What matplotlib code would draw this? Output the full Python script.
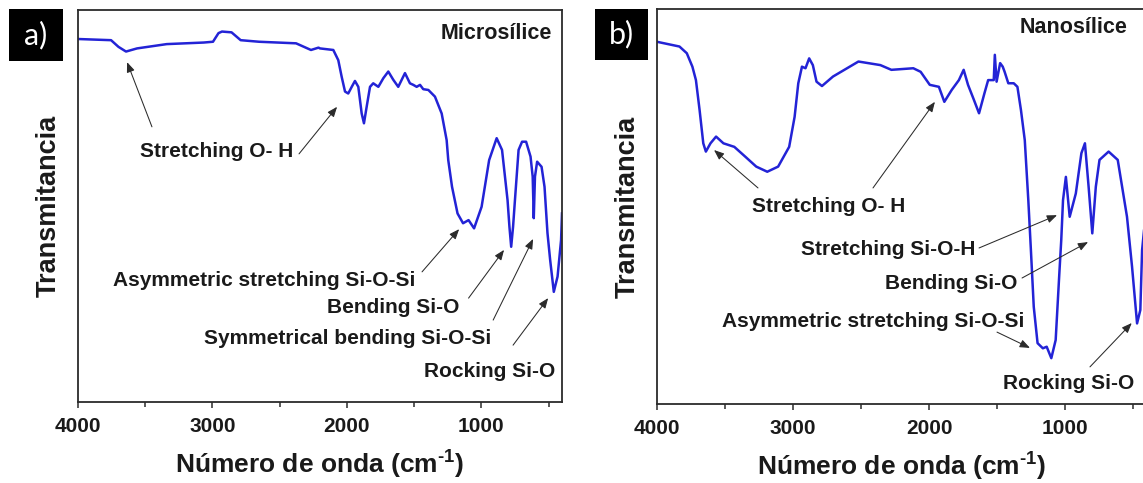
import matplotlib
matplotlib.use("Agg")
import matplotlib.pyplot as plt
from matplotlib.patches import Rectangle
from matplotlib.ticker import MultipleLocator

plt.rcParams["font.family"] = ["Liberation Sans", "DejaVu Sans"]
plt.rcParams["font.weight"] = "bold"
plt.rcParams["mathtext.fontset"] = "custom"
plt.rcParams["mathtext.rm"] = "Liberation Sans:bold"
plt.rcParams["mathtext.bf"] = "Liberation Sans:bold"

# FTIR spectrum of microsilica (wavenumber in cm-1, transmittance in a.u.)
micro_wn = [4000, 3754, 3699, 3643, 3561, 3340, 3065, 2996, 2955, 2929, 2858, 2790,
            2653, 2378, 2267, 2211, 2200, 2101, 2064, 2039, 2014, 1990, 1964, 1940,
            1915, 1890, 1873, 1853, 1828, 1804, 1766, 1729, 1692, 1655, 1618, 1568,
            1531, 1506, 1481, 1456, 1432, 1394, 1345, 1295, 1258, 1246, 1218, 1177,
            1136, 1095, 1054, 998, 942, 886, 846, 805, 791, 778, 764, 750, 723, 697,
            667, 634, 618, 610, 601, 585, 552, 530, 508, 488, 461, 433, 407, 400]
micro_t = [92.6, 92.3, 90.6, 89.4, 90.2, 91.3, 91.7, 91.9, 94.1, 94.5, 94.3, 92.3,
           91.9, 91.5, 89.8, 90.4, 90.2, 89.8, 87.2, 83.0, 79.2, 78.7, 80.4, 81.9,
           80.4, 73.6, 71.1, 75.3, 80.4, 81.3, 80.4, 82.6, 84.3, 82.2, 80.4, 83.9,
           81.3, 80.9, 80.4, 80.9, 79.8, 79.6, 77.9, 73.6, 66.8, 61.7, 54.9, 48.1,
           45.6, 46.4, 44.3, 49.8, 61.7, 67.3, 64.3, 51.5, 44.7, 39.6, 44.7, 51.5,
           64.3, 66.4, 66.4, 62.6, 57.5, 46.9, 57.5, 61.3, 60.0, 54.9, 43.1, 36.2,
           28.1, 32.0, 41.3, 48.1]

# FTIR spectrum of nanosilica
nano_wn = [4000, 3835, 3781, 3740, 3714, 3687, 3660, 3641, 3607, 3566, 3512, 3432,
           3351, 3271, 3190, 3110, 3029, 2989, 2962, 2935, 2909, 2882, 2855, 2828,
           2788, 2707, 2520, 2359, 2278, 2117, 2063, 1996, 1929, 1889, 1835, 1782,
           1747, 1715, 1674, 1634, 1594, 1567, 1526, 1518, 1505, 1479, 1460, 1446,
           1419, 1379, 1352, 1326, 1298, 1272, 1253, 1232, 1204, 1165, 1137, 1103,
           1071, 1044, 1030, 1017, 996, 968, 923, 882, 856, 829, 802, 776, 749, 682,
           615, 547, 510, 473, 449, 436, 400]
nano_t = [91.7, 90.5, 88.8, 85.4, 82.0, 74.4, 66.0, 63.9, 66.0, 67.7, 66.0, 65.1,
          62.6, 60.1, 58.8, 60.1, 65.1, 72.7, 81.2, 85.4, 85.0, 87.5, 85.8, 81.6,
          80.5, 82.9, 86.7, 85.8, 84.6, 85.0, 84.1, 80.8, 80.3, 76.5, 79.5, 82.0,
          84.6, 80.8, 77.2, 73.6, 78.7, 82.0, 82.0, 88.4, 81.6, 86.3, 85.4, 84.1,
          81.2, 81.2, 80.3, 74.4, 66.8, 51.6, 39.0, 24.6, 15.4, 14.1, 14.5, 11.6,
          16.2, 33.1, 41.5, 51.6, 57.5, 47.4, 53.3, 63.5, 66.0, 55.0, 43.2, 55.0,
          61.8, 63.9, 61.8, 47.4, 34.8, 20.4, 23.8, 39.0, 51.6]

major_ticks = [4000, 3000, 2000, 1000]

line_color = "#2323d6"
spine_color = "#2b2b2b"
text_color = "#1a1a1a"
arrow_props = dict(arrowstyle="-|>,head_length=0.6,head_width=0.24",
                   lw=0.75, color="#2b2b2b", shrinkA=0, shrinkB=0)

W, H = 1143, 483
fig = plt.figure(figsize=(W / 100, H / 100), dpi=100)


def px_axes(x0, y0, x1, y1):
    return fig.add_axes([x0 / W, 1 - y1 / H, (x1 - x0) / W, (y1 - y0) / H])


def style_axes(ax):
    ax.set_xlim(4000, 400)
    ax.set_ylim(0, 100)
    ax.set_xticks(major_ticks)
    ax.xaxis.set_minor_locator(MultipleLocator(500))
    ax.tick_params(axis="x", which="major", direction="out", length=4.5, width=1.1,
                   color=spine_color, labelsize=15, pad=6, labelcolor=text_color)
    ax.tick_params(axis="x", which="minor", direction="out", length=3.5, width=1.1,
                   color=spine_color)
    ax.set_yticks([])
    for lab in ax.get_xticklabels():
        lab.set_fontweight("bold")
    for s in ax.spines.values():
        s.set_color(spine_color)
        s.set_linewidth(1.3)
    ax.set_xlabel(r"Número de onda (cm$^{\text{-1}}$)", fontsize=19,
                  fontweight="bold", labelpad=8, color=text_color)
    ax.set_ylabel("Transmitancia", fontsize=19.5, fontweight="bold", labelpad=12,
                  color=text_color)


def note(ax, xy, xytext):
    ax.annotate("", xy=xy, xytext=xytext, arrowprops=arrow_props)


def label(ax, text, x, y, ha="right"):
    ax.text(x, y, text, ha=ha, va="center", fontsize=15, fontweight="bold",
            color=text_color)


# Panel a) microsilica
ax1 = px_axes(78, 10, 562, 402)
style_axes(ax1)
ax1.plot(micro_wn, micro_t, color=line_color, lw=1.8)
ax1.text(474, 94.1, "Microsílice", ha="right", va="center", fontsize=15.5,
         fontweight="bold", color=text_color)
label(ax1, "Stretching O- H", 2970, 63.8, ha="center")
note(ax1, (3635, 86.7), (3450, 70.2))
note(ax1, (2073, 75.3), (2356, 63.3))
label(ax1, "Asymmetric stretching Si-O-Si", 1493, 31.1)
note(ax1, (1165, 44.1), (1441, 33.2))
label(ax1, "Bending Si-O", 1165, 24.0)
note(ax1, (831, 38.8), (1095, 26.5))
label(ax1, "Symmetrical bending Si-O-Si", 927, 16.3)
note(ax1, (615, 41.6), (912, 20.9))
label(ax1, "Rocking Si-O", 447, 7.7)
note(ax1, (503, 26.5), (764, 14.5))

# Panel b) nanosilica
ax2 = px_axes(657, 9, 1147, 404)
style_axes(ax2)
ax2.plot(nano_wn, nano_t, color=line_color, lw=1.8)
ax2.text(540, 95.4, "Nanosílice", ha="right", va="center", fontsize=15.5,
         fontweight="bold", color=text_color)
label(ax2, "Stretching O- H", 2736, 49.9, ha="center")
note(ax2, (3581, 64.3), (3258, 54.7))
note(ax2, (1958, 76.5), (2413, 54.7))
label(ax2, "Stretching Si-O-H", 1664, 39.0)
note(ax2, (1061, 47.8), (1634, 39.5))
label(ax2, "Bending Si-O", 1355, 30.6)
note(ax2, (833, 41.0), (1318, 31.9))
label(ax2, "Asymmetric stretching Si-O-Si", 1304, 20.8)
note(ax2, (1260, 14.2), (1502, 18.2))
label(ax2, "Rocking Si-O", 495, 5.3)
note(ax2, (512, 20.5), (819, 9.4))

# Panel tags
for (x0, y0, x1, y1, tag) in [(9, 9, 63, 61, "a)"), (595, 9, 648, 60, "b)")]:
    fig.patches.append(Rectangle((x0 / W, 1 - y1 / H), (x1 - x0) / W, (y1 - y0) / H,
                                 transform=fig.transFigure, facecolor="black",
                                 edgecolor="none"))
    fig.text((x0 + x1) / 2 / W, 1 - (y0 + y1) / 2 / H, tag, ha="center", va="center",
             color="white", fontsize=22, fontweight="normal",
             family=["Lato", "DejaVu Sans"])

fig.savefig("out.png", dpi=100)
